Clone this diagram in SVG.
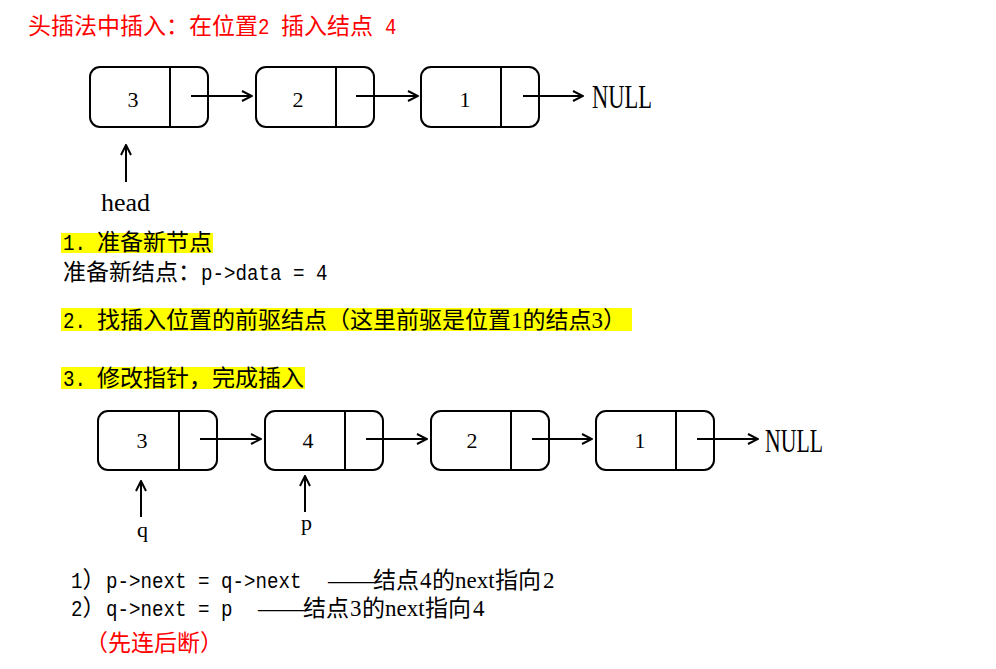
<svg xmlns="http://www.w3.org/2000/svg" width="996" height="669" viewBox="0 0 996 669">
<defs>
<style>
.bg{fill:#ffffff}
.box{fill:none;stroke:#000;stroke-width:2}
.div{stroke:#000;stroke-width:2}
.lbl{font-family:"Liberation Serif",serif;font-size:22px;fill:#000;text-anchor:middle}
.ser{font-family:"Liberation Serif","Noto Sans CJK SC",serif;fill:#000}
.a{font-family:"Liberation Mono","Noto Sans CJK SC",monospace;font-size:22px;fill:#000}
.c{font-family:"Noto Sans CJK SC",sans-serif;font-size:23px;fill:#000}
.s{font-family:"Liberation Serif","Noto Sans CJK SC",serif;font-size:23px;fill:#000}
.red{fill:#ff0000}
.hl{fill:#ffff00}
.con{stroke:#000;stroke-width:2;fill:none;marker-end:url(#ah)}
</style>
<marker id="ah" viewBox="0 0 12 12" refX="11" refY="6" markerWidth="12" markerHeight="12" markerUnits="userSpaceOnUse" orient="auto">
<path d="M1,1 L11,6 L1,11" fill="none" stroke="#000" stroke-width="2"/>
</marker>
</defs>
<rect class="bg" x="0" y="0" width="996" height="669"/>

<g id="title">
<text y="34"><tspan class="c red" x="28">头插法中插入：在位置</tspan><tspan class="a red" x="258" textLength="11.5" lengthAdjust="spacingAndGlyphs">2</tspan><tspan class="c red" x="281">插入结点</tspan><tspan class="a red" x="385" textLength="11.5" lengthAdjust="spacingAndGlyphs">4</tspan></text>
</g>

<g id="top-node-3">
<rect class="box" x="90" y="67" width="118" height="60" rx="10"/>
<line class="div" x1="170" y1="67" x2="170" y2="127"/>
<text class="lbl" x="133" y="107">3</text>
</g>
<g id="top-node-2">
<rect class="box" x="256" y="67" width="118" height="60" rx="10"/>
<line class="div" x1="336" y1="67" x2="336" y2="127"/>
<text class="lbl" x="298" y="107">2</text>
</g>
<g id="top-node-1">
<rect class="box" x="421" y="67" width="118" height="60" rx="10"/>
<line class="div" x1="501" y1="67" x2="501" y2="127"/>
<text class="lbl" x="465" y="107">1</text>
</g>
<g id="top-null">
<text class="ser" x="592" y="108" font-size="34" textLength="60" lengthAdjust="spacingAndGlyphs">NULL</text>
</g>
<g id="head-label">
<text class="ser" x="101" y="211" font-size="26">head</text>
</g>

<g id="step1">
<rect class="hl" x="61" y="233" width="152" height="20"/>
<text y="250"><tspan class="a" x="63" textLength="23" lengthAdjust="spacingAndGlyphs">1.</tspan><tspan class="c" x="97">准备新节点</tspan></text>
<text y="280"><tspan class="c" x="63">准备新结点：</tspan><tspan class="a" x="201" textLength="126.5" lengthAdjust="spacingAndGlyphs">p-&gt;data = 4</tspan></text>
</g>
<g id="step2">
<rect class="hl" x="61" y="308" width="571" height="23"/>
<text y="328"><tspan class="a" x="63" textLength="23" lengthAdjust="spacingAndGlyphs">2.</tspan><tspan class="c" x="97">找插入位置的前驱结点（这里前驱是位置</tspan><tspan class="s" x="511">1</tspan><tspan class="c" x="522.5">的结点</tspan><tspan class="s" x="591.5">3</tspan><tspan class="c" x="603">）</tspan></text>
</g>
<g id="step3">
<rect class="hl" x="61" y="367" width="244" height="22"/>
<text y="386"><tspan class="a" x="63" textLength="23" lengthAdjust="spacingAndGlyphs">3.</tspan><tspan class="c" x="97">修改指针，完成插入</tspan></text>
</g>

<g id="bot-node-3">
<rect class="box" x="98" y="411" width="119" height="59" rx="10"/>
<line class="div" x1="179" y1="411" x2="179" y2="470"/>
<text class="lbl" x="142" y="448">3</text>
</g>
<g id="bot-node-4">
<rect class="box" x="265" y="411" width="118" height="59" rx="10"/>
<line class="div" x1="345" y1="411" x2="345" y2="470"/>
<text class="lbl" x="308" y="448">4</text>
</g>
<g id="bot-node-2">
<rect class="box" x="431" y="411" width="118" height="59" rx="10"/>
<line class="div" x1="511" y1="411" x2="511" y2="470"/>
<text class="lbl" x="472" y="448">2</text>
</g>
<g id="bot-node-1">
<rect class="box" x="596" y="411" width="118" height="59" rx="10"/>
<line class="div" x1="676" y1="411" x2="676" y2="470"/>
<text class="lbl" x="640" y="448">1</text>
</g>
<g id="bot-null">
<text class="ser" x="765" y="452" font-size="34" textLength="58" lengthAdjust="spacingAndGlyphs">NULL</text>
</g>
<g id="q-label">
<text class="ser" x="137" y="537" font-size="22">q</text>
</g>
<g id="p-label">
<text class="ser" x="301" y="530" font-size="22">p</text>
</g>

<g id="connectors">
<line class="con" x1="191" y1="96" x2="252" y2="96"/>
<line class="con" x1="356" y1="96" x2="418" y2="96"/>
<line class="con" x1="523" y1="96" x2="583" y2="96"/>
<line class="con" x1="126" y1="182" x2="126" y2="145"/>
<line class="con" x1="200" y1="439" x2="261" y2="439"/>
<line class="con" x1="366" y1="439" x2="427" y2="439"/>
<line class="con" x1="532" y1="439" x2="592" y2="439"/>
<line class="con" x1="697" y1="439" x2="758" y2="439"/>
<line class="con" x1="141" y1="517" x2="141" y2="481"/>
<line class="con" x1="305" y1="512" x2="305" y2="476"/>
</g>

<g id="notes">
<text y="588"><tspan class="a" x="71" textLength="11.5" lengthAdjust="spacingAndGlyphs">1</tspan><tspan class="c" x="82.5">）</tspan><tspan class="a" x="106" textLength="195.5" lengthAdjust="spacingAndGlyphs">p-&gt;next = q-&gt;next</tspan><tspan class="s" x="328">——</tspan><tspan class="c" x="373">结点</tspan><tspan class="s" x="420">4</tspan><tspan class="c" x="432">的</tspan><tspan class="s" x="455">next</tspan><tspan class="c" x="495">指向</tspan><tspan class="s" x="543">2</tspan></text>
<text y="616"><tspan class="a" x="71" textLength="11.5" lengthAdjust="spacingAndGlyphs">2</tspan><tspan class="c" x="82.5">）</tspan><tspan class="a" x="106" textLength="126.5" lengthAdjust="spacingAndGlyphs">q-&gt;next = p</tspan><tspan class="s" x="258">——</tspan><tspan class="c" x="303">结点</tspan><tspan class="s" x="350">3</tspan><tspan class="c" x="362">的</tspan><tspan class="s" x="385">next</tspan><tspan class="c" x="425">指向</tspan><tspan class="s" x="473">4</tspan></text>
<text y="651"><tspan class="c red" x="85">（先连后断）</tspan></text>
</g>
</svg>
